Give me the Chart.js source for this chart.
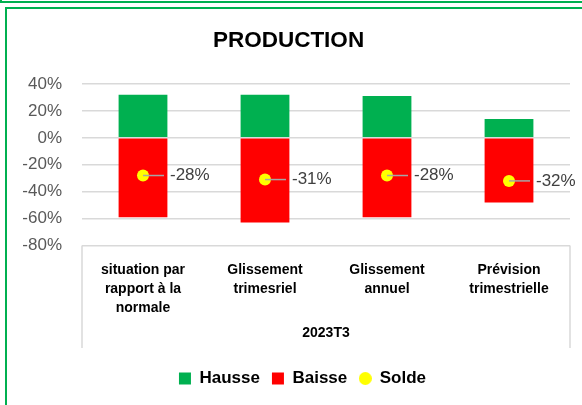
<!DOCTYPE html>
<html>
<head>
<meta charset="utf-8">
<script src="https://cdn.jsdelivr.net/npm/chart.js@4.4.0/dist/chart.umd.min.js"></script>
<style>
    body { margin: 0; background: #fff; overflow: hidden; }
    #top { position: absolute; left: 0; top: 0; width: 600px; height: 1px; border-left: 2px solid #00b050; border-bottom: 2px solid #00b050; }
    #frame { position: absolute; left: 5px; top: 7px; width: 600px; height: 420px; border-left: 2px solid #00b050; border-top: 2px solid #00b050; }
    #wrap { position: absolute; left: 7px; top: 9px; }
</style>
</head>
<body>
<div id="top"></div>
<div id="frame"></div>
<div id="wrap"><canvas id="myChart" width="575" height="396"></canvas></div>
<script>
const categories = [
    ["situation par", "rapport à la", "normale"],
    ["Glissement", "trimesriel"],
    ["Glissement", "annuel"],
    ["Prévision", "trimestrielle"]
];
const hausse = [32, 32, 31, 14];
const baisse = [-59, -63, -59, -48];
const solde = [-28, -31, -28, -32];
const yTicks = [40, 20, 0, -20, -40, -60, -80];

// small yellow dot for the legend
const dot = document.createElement('canvas');
dot.width = 13;
dot.height = 13;
const dctx = dot.getContext('2d');
dctx.fillStyle = '#ffff00';
dctx.beginPath();
dctx.arc(6.5, 6.5, 6.5, 0, Math.PI * 2);
dctx.fill();

// leader line + value label next to each Solde point
const soldeLabels = {
    id: 'soldeLabels',
    afterDatasetsDraw(chart) {
        const ctx = chart.ctx;
        const meta = chart.getDatasetMeta(2);
        ctx.save();
        meta.data.forEach((pt, i) => {
            ctx.strokeStyle = '#a6a6a6';
            ctx.lineWidth = 1.5;
            ctx.beginPath();
            ctx.moveTo(pt.x, pt.y);
            ctx.lineTo(pt.x + 21, pt.y);
            ctx.stroke();
            ctx.fillStyle = '#404040';
            ctx.font = '17px "Liberation Sans"';
            ctx.textAlign = 'left';
            ctx.textBaseline = 'middle';
            ctx.fillText(solde[i] + '%', pt.x + 27, pt.y);
        });
        ctx.restore();
    }
};

// box around the category axis, and legend nudged right like the original
const axisBox = {
    id: 'axisBox',
    afterLayout(chart) {
        chart.legend.left += 14;
        chart.legend.right += 14;
    },
    afterDraw(chart) {
        const ctx = chart.ctx;
        const a = chart.chartArea;
        const b = chart.scales.x.bottom - 10;
        ctx.save();
        ctx.strokeStyle = '#d9d9d9';
        ctx.lineWidth = 1.5;
        ctx.beginPath();
        ctx.moveTo(a.left, a.bottom);
        ctx.lineTo(a.left, b);
        ctx.moveTo(a.right, a.bottom);
        ctx.lineTo(a.right, b);
        ctx.stroke();
        ctx.restore();
    }
};

const ctx = document.getElementById('myChart').getContext('2d');
new Chart(ctx, {
    data: {
        labels: categories,
        datasets: [
            {
                type: 'bar',
                label: 'Hausse',
                data: hausse,
                backgroundColor: '#00b050',
                stack: 'bars',
                order: 1,
                pointStyle: 'rect',
                categoryPercentage: 1,
                barPercentage: 0.4
            },
            {
                type: 'bar',
                label: 'Baisse',
                data: baisse,
                backgroundColor: '#ff0000',
                stack: 'bars',
                order: 1,
                pointStyle: 'rect',
                categoryPercentage: 1,
                barPercentage: 0.4
            },
            {
                type: 'line',
                label: 'Solde',
                data: solde,
                showLine: false,
                stack: 'solde',
                order: 0,
                pointStyle: 'circle',
                pointRadius: 6,
                pointBackgroundColor: '#ffff00',
                pointBorderColor: '#ffff00',
                backgroundColor: '#ffff00',
                borderColor: '#ffff00',
                borderWidth: 0
            }
        ]
    },
    options: {
        responsive: false,
        animation: false,
        layout: { padding: { left: 0, right: 12, top: 0, bottom: 8 } },
        plugins: {
            title: {
                display: true,
                text: 'PRODUCTION',
                color: '#000',
                font: { family: 'Liberation Sans', size: 22.5, weight: 'bold' },
                padding: { top: 18, bottom: 30 }
            },
            legend: {
                position: 'bottom',
                labels: {
                    usePointStyle: true,
                    boxWidth: 12,
                    boxHeight: 12,
                    padding: 12,
                    color: '#000',
                    font: { family: 'Liberation Sans', size: 17, weight: 'bold' },
                    sort: (a, b) => a.datasetIndex - b.datasetIndex,
                    generateLabels: (chart) => {
                        const items = Chart.defaults.plugins.legend.labels.generateLabels(chart);
                        items.forEach(it => {
                            if (it.text === 'Solde') it.pointStyle = dot;
                        });
                        return items;
                    }
                }
            },
            tooltip: { enabled: false }
        },
        scales: {
            x: {
                stacked: true,
                grid: { display: false, drawTicks: false, tickLength: 0 },
                border: { display: false },
                ticks: {
                    color: '#000',
                    padding: 15.5,
                    maxRotation: 0,
                    font: { family: 'Liberation Sans', size: 14, weight: 'bold', lineHeight: 1.35 }
                },
                title: {
                    display: true,
                    text: '2023T3',
                    color: '#000',
                    font: { family: 'Liberation Sans', size: 14, weight: 'bold' },
                    padding: { top: -8, bottom: 16 }
                }
            },
            y: {
                stacked: true,
                min: -80,
                max: 40,
                afterBuildTicks: (axis) => {
                    axis.ticks = yTicks.map(v => ({ value: v }));
                },
                afterFit: (axis) => {
                    axis.width = 75;
                },
                grid: { color: '#d9d9d9', lineWidth: 1.5, drawTicks: false },
                border: { display: false },
                ticks: {
                    color: '#595959',
                    padding: 20,
                    font: { family: 'Liberation Sans', size: 17 },
                    callback: (v) => v + '%'
                }
            }
        }
    },
    plugins: [soldeLabels, axisBox]
});
</script>
</body>
</html>
